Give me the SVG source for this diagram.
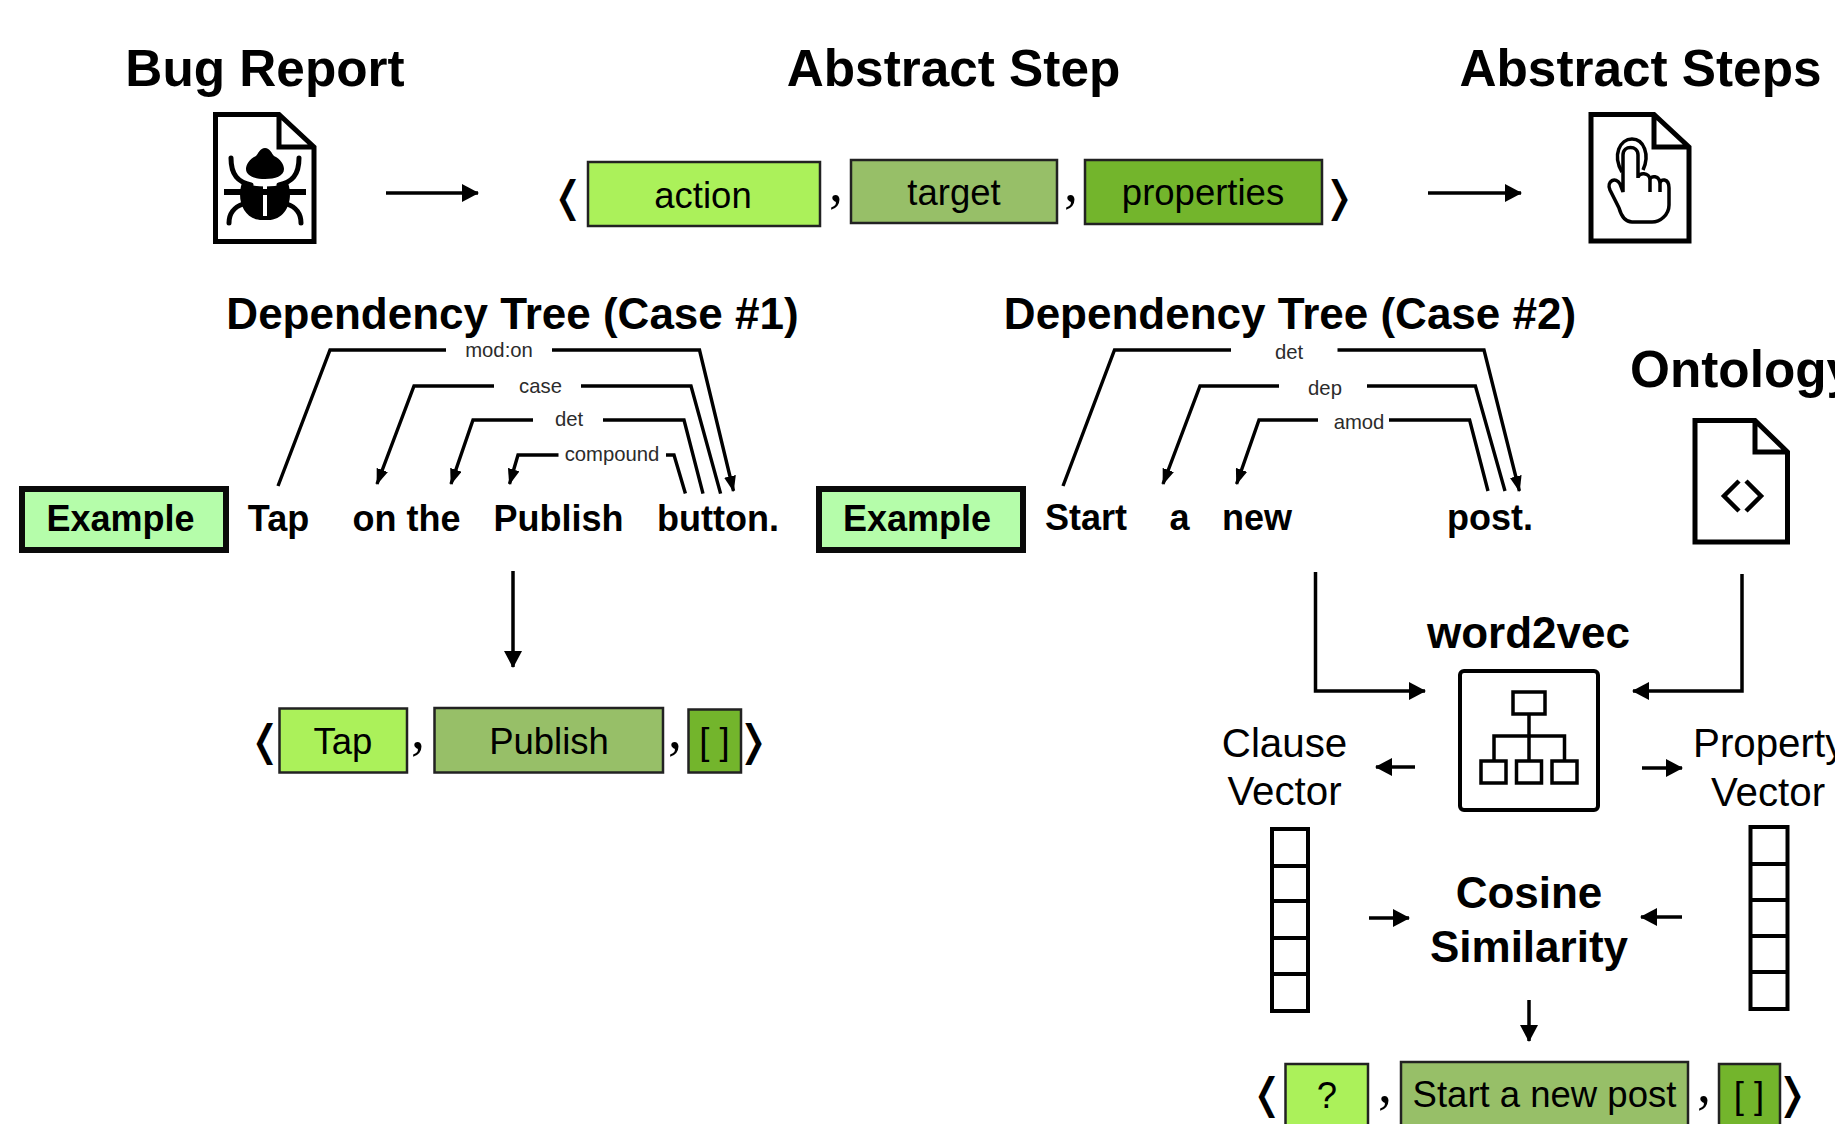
<svg xmlns="http://www.w3.org/2000/svg" width="1835" height="1124" viewBox="0 0 1835 1124">
<style>
text{font-family:"Liberation Sans",Arial,sans-serif;fill:#000;text-anchor:middle}
.h1{font-size:51.300px;font-weight:700}
.h2{font-size:44px;font-weight:700}
.w{font-size:36px;font-weight:700}
.t{font-size:36.500px}
.v{font-size:40.300px}
.d{font-size:20.300px;fill:#2b2b2b}
.br{font-family:"DejaVu Sans",sans-serif;font-size:42px}
.cm{font-family:"Liberation Serif",serif;font-size:56px}
.a{fill:#abf15a;stroke:#222;stroke-width:2.5}
.b{fill:#97bf68;stroke:#222;stroke-width:2.5}
.c{fill:#73b52c;stroke:#222;stroke-width:2.5}
.ex{fill:#b5fdaa;stroke:#0a0a0a;stroke-width:6}
.ic{fill:none;stroke:#000;stroke-width:5;stroke-linejoin:miter}
.thin{fill:none;stroke:#000;stroke-width:3.5}
.ln{fill:none;stroke:#000;stroke-width:3.5}
.arc{fill:none;stroke:#000;stroke-width:3.4}
.big{marker-end:url(#big)}
.sm{marker-end:url(#sm)}
</style>
<defs>
<marker id="big" markerUnits="userSpaceOnUse" markerWidth="18" markerHeight="18" refX="16" refY="9" orient="auto"><path d="M0,0L17,9L0,18z" fill="#000"/></marker>
<marker id="sm" markerUnits="userSpaceOnUse" markerWidth="17" markerHeight="12" refX="15" refY="6" orient="auto"><path d="M0,0L16,6L0,12z" fill="#000"/></marker>
</defs>

<g id="connectors">
<path class="ln big" d="M386,193H478"/>
<path class="ln big" d="M1428,193H1521"/>
<path class="ln big" d="M513,571V667"/>
<path class="ln big" d="M1315.500,572V691H1425"/>
<path class="ln big" d="M1742,574V691H1633"/>
<path class="ln big" d="M1415,767H1376"/>
<path class="ln big" d="M1642,768H1682"/>
<path class="ln big" d="M1369,918H1409"/>
<path class="ln big" d="M1682,917H1641"/>
<path class="ln big" d="M1529,1000V1041"/>
<path class="arc sm" d="M278,486L330,350H446M552,350H699.500L733.500,491"/>
<path class="arc sm" d="M720.600,493.600L691,386H581M494,386H414L377,484"/>
<path class="arc sm" d="M703,493.600L684,420H603M533,420H473L451,484"/>
<path class="arc sm" d="M685.400,493.600L674,455H666M558.500,455H518L509.500,484"/>
<path class="arc sm" d="M1063,486L1114.500,350H1231M1337.500,350H1484L1519.400,491"/>
<path class="arc sm" d="M1505,491L1475.400,386H1367M1279,386H1200L1163,484"/>
<path class="arc sm" d="M1488,491L1469.600,420H1389M1318,420H1259L1236.600,484"/>
<text class="d" x="499" y="357">mod:on</text>
<text class="d" x="540.500" y="392.500">case</text>
<text class="d" x="569" y="426">det</text>
<text class="d" x="612" y="461">compound</text>
<text class="d" x="1289" y="359">det</text>
<text class="d" x="1325" y="394.500">dep</text>
<text class="d" x="1359" y="429">amod</text>
</g>

<g id="bug-report">
<text class="h1" x="265" y="86">Bug Report</text>
<path class="ic" d="M215.500,114.500H279L314,147V241.500H215.500ZM279,114.500V147H314"/>
<path d="M265,148C270,148 272,154 274,156C281,159 284,165 284,169C284,176 275,179 265,179C255,179 246,176 246,169C246,165 249,159 256,156C258,154 260,148 265,148Z"/>
<path d="M242,183Q265,190 288,183C294,200 286,220 268,220H262C244,220 236,200 242,183Z"/>
<path d="M265,186V216" stroke="#fff" stroke-width="4"/>
<path d="M224,192H306" stroke="#000" stroke-width="6"/>
<path d="M231,158C231,175 238,182 251,185M299,158C299,175 292,182 279,185M243,204C234,207 229,214 229,223M287,204C296,207 301,214 301,223" fill="none" stroke="#000" stroke-width="5" stroke-linecap="round"/>
</g>

<g id="abstract-step">
<text class="h1" x="953.500" y="86">Abstract Step</text>
<text class="br" x="568" y="211">❬</text>
<rect class="a" x="588" y="162" width="232" height="64"/>
<text class="t" x="703" y="208">action</text>
<text class="cm" x="836" y="201">,</text>
<rect class="b" x="851" y="160" width="206" height="63"/>
<text class="t" x="954" y="205">target</text>
<text class="cm" x="1071" y="201">,</text>
<rect class="c" x="1085" y="160" width="237" height="64"/>
<text class="t" x="1203" y="205">properties</text>
<text class="br" x="1339" y="211">❭</text>
</g>

<g id="abstract-steps">
<text class="h1" x="1640.500" y="86">Abstract Steps</text>
<path class="ic" d="M1591,114.500H1654L1689,147V241H1591ZM1654,114.500V147H1689"/>
<path class="thin" d="M1623,192V155C1623,145 1638,145 1638,155V178C1638,172 1650,172 1650,180C1650,175 1660,175 1660,184C1660,178 1669,178 1669,188V205C1669,215 1660,222 1652,222H1632C1625,222 1621,215 1619,208L1610,190C1606,181 1616,176 1620,184L1623,192ZM1650,180V192M1660,184V192"/>
<path class="thin" d="M1622,172C1612,155 1620,139 1632,139C1644,139 1650,155 1643,170"/>
</g>

<g id="tree-case-1">
<text class="h2" x="512.500" y="329">Dependency Tree (Case #1)</text>
<rect class="ex" x="22" y="489" width="204" height="61"/>
<text class="w" x="120.500" y="531">Example</text>
<text class="w" x="278.500" y="531">Tap</text>
<text class="w" x="406.500" y="531">on the</text>
<text class="w" x="558.500" y="531">Publish</text>
<text class="w" x="718" y="531">button.</text>
</g>

<g id="tree-case-2">
<text class="h2" x="1290" y="329">Dependency Tree (Case #2)</text>
<rect class="ex" x="819" y="489" width="204" height="61"/>
<text class="w" x="917" y="531">Example</text>
<text class="w" x="1086" y="530">Start</text>
<text class="w" x="1179.500" y="530">a</text>
<text class="w" x="1257" y="530">new</text>
<text class="w" x="1490" y="530">post.</text>
</g>

<g id="ontology">
<text class="h1" x="1630" y="387" style="text-anchor:start">Ontology</text>
<path class="ic" d="M1695,420.500H1755L1787.500,452V542H1695ZM1755,420.500V452H1787.500"/>
<path class="ic" d="M1739,481L1724,496L1739,511M1746,481L1761,496L1746,511" style="stroke-width:4.500"/>
</g>

<g id="case-1-result">
<text class="br" x="265" y="755">❬</text>
<rect class="a" x="279.500" y="708.500" width="127.500" height="64"/>
<text class="t" x="343" y="754">Tap</text>
<text class="cm" x="418" y="748">,</text>
<rect class="b" x="434.500" y="708" width="228.500" height="64.500"/>
<text class="t" x="549" y="754">Publish</text>
<text class="cm" x="675" y="748">,</text>
<rect class="c" x="688.500" y="709.500" width="52.500" height="63"/>
<text class="t" x="714.500" y="754">[ ]</text>
<text class="br" x="753" y="755">❭</text>
</g>

<g id="word2vec">
<text class="h2" x="1528.500" y="648">word2vec</text>
<rect x="1460" y="671" width="138" height="139" rx="4" fill="#fff" stroke="#000" stroke-width="4"/>
<g class="thin">
<rect x="1513" y="692" width="32" height="22"/>
<rect x="1481" y="761" width="25" height="22"/>
<rect x="1516.500" y="761" width="25" height="22"/>
<rect x="1552" y="761" width="25" height="22"/>
<path d="M1529,714V761M1494,761V736H1564.500V761"/>
</g>
</g>

<g id="clause-vector">
<text class="v" x="1284.500" y="757">Clause</text>
<text class="v" x="1284.500" y="805">Vector</text>
<g class="thin" style="stroke-width:4"><rect x="1272" y="829" width="36" height="182"/><path d="M1272,866H1308M1272,901H1308M1272,938H1308M1272,974H1308"/></g>
</g>

<g id="property-vector">
<text class="v" x="1693" y="757" style="text-anchor:start">Property</text>
<text class="v" x="1768" y="806">Vector</text>
<g class="thin" style="stroke-width:4"><rect x="1750.500" y="827" width="37" height="182"/><path d="M1750.500,864H1787.500M1750.500,900H1787.500M1750.500,936H1787.500M1750.500,972H1787.500"/></g>
</g>

<g id="cosine-similarity">
<text class="h2" x="1529" y="908">Cosine</text>
<text class="h2" x="1529" y="962">Similarity</text>
</g>

<g id="case-2-result">
<text class="br" x="1267" y="1108">❬</text>
<rect class="a" x="1285.500" y="1064" width="82.500" height="70"/>
<text class="t" x="1327" y="1108">?</text>
<text class="cm" x="1385" y="1102">,</text>
<rect class="b" x="1401" y="1062" width="287" height="72"/>
<text class="t" x="1544.500" y="1107">Start a new post</text>
<text class="cm" x="1704" y="1102">,</text>
<rect class="c" x="1719" y="1064" width="61" height="70"/>
<text class="t" x="1749" y="1108">[ ]</text>
<text class="br" x="1792" y="1108">❭</text>
</g>
</svg>
